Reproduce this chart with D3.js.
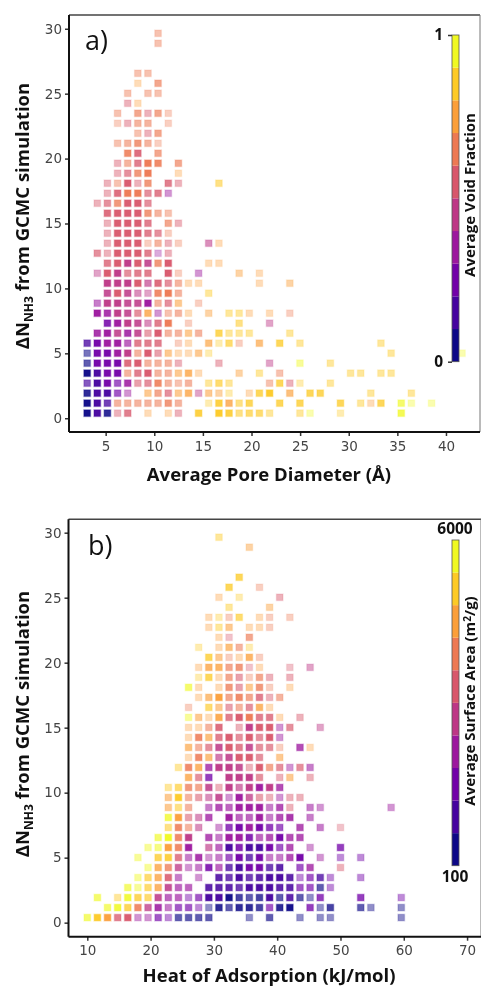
<!DOCTYPE html>
<html>
<head>
<meta charset="utf-8">
<script src="https://cdn.jsdelivr.net/npm/d3@7"></script>
<style>
  html, body { margin: 0; padding: 0; background: #fff; }
  svg { display: block; filter: blur(0.35px); }
  .tick text { font: 13.5px "DejaVu Sans", sans-serif; fill: #444; }
  .tick line { stroke: #333; stroke-width: 1.5px; }
  .axis path { display: none; }
  .title { font: bold 18.5px "Open Sans", sans-serif; fill: #111; }
  .cbtitle { font: bold 15px "Open Sans", sans-serif; fill: #111; }
  .cblabel { font: bold 15.5px "Open Sans", sans-serif; fill: #111; }
  .panel { font: 27px "Open Sans", sans-serif; fill: #111; }
</style>
</head>
<body>
<svg id="chart" width="481" height="988"></svg>
<script>
// bin centres of the 2d histograms
var poreBins = [3.1,4.14,5.18,6.23,7.27,8.31,9.35,10.39,11.44,12.48,13.52,14.56,15.6,16.65,17.69,18.73,19.77,20.81,21.86,22.9,23.94,24.98,26.02,27.07,28.11,29.15,30.19,31.23,32.27,33.31,34.36,35.4,36.44,37.48,38.52,39.57,40.61,41.65];
var heatBins = [10,11.6,13.2,14.8,16.4,18,19.6,21.2,22.8,24.4,26,27.6,29.2,30.8,32.4,34,35.6,37.2,38.8,40.4,42,43.6,45.2,46.8,48.4,50,51.6,53.2,54.8,56.4,58,59.6];
var nh3Bins = [0.39,1.16,1.93,2.70,3.47,4.24,5.01,5.78,6.55,7.32,8.09,8.86,9.63,10.4,11.17,11.94,12.71,13.48,14.25,15.02,15.79,16.56,17.33,18.1,18.87,19.64,20.41,21.18,21.95,22.72,23.49,24.26,25.03,25.8,26.57,27.34,28.11,28.88,29.65];

// one string per nh3 bin, "bin:LD" = x bin, colour level L (0-9), density D (1-9)
var cellsA = [
  "0:09 1:19 2:08 3:54 4:57 6:73 8:73 9:54 11:88 13:89 14:88 15:85 16:86 17:86 18:84 21:84 22:93 25:83 31:97",
  "0:09 1:19 2:17 3:65 4:65 5:65 6:65 7:65 8:67 9:65 12:83 13:88 14:77 15:85 16:87 19:87 21:87 25:87 27:84 28:73 29:87 31:96 32:93 34:93",
  "0:08 1:19 2:19 3:26 4:34 6:75 7:66 8:56 9:75 10:77 11:44 12:75 13:74 14:83 16:73 17:87 18:89 20:76 22:87 23:87 28:84 32:84",
  "0:16 1:19 2:29 3:26 4:38 5:55 6:56 7:68 8:65 9:64 10:65 12:84 13:86 14:84 18:64 19:87 20:54 21:83 24:84",
  "0:09 1:19 2:29 3:29 4:65 5:57 6:59 7:65 8:65 9:75 10:77 11:73 15:74 17:84 19:64 26:84 27:84 29:84 30:84",
  "0:06 1:29 2:29 3:29 4:58 5:59 6:65 7:65 8:65 9:54 13:54 18:44 21:94 24:84",
  "0:05 1:29 2:29 3:39 4:49 5:65 6:59 7:55 8:75 9:73 10:73 11:75 12:83 30:84 37:93",
  "0:17 1:29 2:39 3:39 4:36 5:57 6:57 7:57 9:63 10:73 12:76 13:83 14:86 15:63 17:76 19:87 21:84 29:84",
  "1:38 2:39 3:48 4:38 5:48 6:55 7:59 8:65 9:65 10:75 11:65 13:87 14:84 15:84 16:84 20:84",
  "2:28 3:39 4:49 5:48 6:45 7:57 8:69 10:63 15:85 18:44",
  "1:39 2:38 3:49 4:48 5:56 6:77 7:34 8:64 9:65 10:73 12:74 14:84 15:84 16:73 18:73 20:63",
  "1:35 2:49 3:49 4:48 5:48 6:39 7:65 8:56 9:75 11:63",
  "2:48 3:59 4:48 5:45 6:44 7:68 8:69 9:65 12:84",
  "2:49 3:49 4:49 5:59 6:46 7:58 8:56 9:65 10:73 11:73 17:73 20:74",
  "1:44 2:59 3:49 4:56 5:57 6:57 8:59 9:63 11:34 15:74 17:73",
  "2:57 3:59 4:49 5:59 6:48 7:67 8:59 12:73 13:73",
  "1:56 2:54 3:59 4:59 5:59 6:57 7:33 8:54",
  "2:54 3:59 4:59 5:59 6:63 7:65 8:54 9:63 12:45 13:73",
  "2:54 3:59 4:59 5:59 6:57 7:56 8:63",
  "2:54 3:59 4:59 5:59 6:57 8:66 9:54",
  "2:58 3:59 4:59 5:59 6:67 7:65 8:64",
  "1:54 2:56 3:67 4:59 5:59 6:56",
  "2:54 3:58 4:69 5:69 6:56 7:57 8:34",
  "2:54 3:64 4:59 5:54 6:67 8:57 9:54 13:85",
  "3:54 4:56 5:67 6:69 9:73",
  "3:54 4:65 5:57 6:69 7:68 9:66",
  "4:68 5:58 7:66",
  "3:64 4:65 5:67 6:65 7:63",
  "5:64 6:54 7:66",
  "3:63 4:54 5:65 6:65 8:63",
  "3:64 5:66 6:54 7:66 8:63",
  "4:54 5:73",
  "4:64 6:64 7:64",
  "5:73 7:66",
  "5:64 6:64",
  "",
  "",
  "7:64",
  "7:64"
];

var cellsB = [
  "0:96 1:89 2:79 3:57 4:59 5:34 6:34 7:26 8:24 9:06 10:06 11:06 12:06 16:04 18:06 21:04 23:04 24:04 31:04",
  "2:96 3:98 4:87 5:68 6:47 7:38 8:35 9:26 10:26 11:24 12:04 13:08 14:06 15:08 16:08 17:07 18:26 19:08 20:09 22:27 23:04 24:07 27:06 28:04 31:04",
  "1:96 3:84 4:98 5:87 6:86 7:48 8:36 9:36 10:24 11:26 12:19 13:19 14:09 15:07 16:06 17:07 18:19 19:06 20:18 21:06 22:04 23:27 27:27 31:24",
  "4:96 5:94 6:86 7:77 8:48 9:36 10:36 12:18 13:18 14:18 15:17 16:19 17:19 18:19 19:18 20:18 21:26 22:26 23:06 24:24",
  "5:94 6:86 7:77 8:58 9:35 11:34 13:18 14:17 15:19 16:17 17:18 18:19 19:19 20:18 21:24 22:26 23:17 24:24 27:24",
  "6:94 7:77 8:67 9:47 10:34 11:35 12:28 13:36 14:17 15:19 16:29 17:29 18:17 19:18 21:26 22:37 25:54",
  "5:94 7:87 8:88 9:57 10:35 11:38 12:34 13:35 14:26 15:29 16:17 17:29 18:35 19:35 20:37 21:29 23:34 25:24 27:24",
  "6:94 7:95 8:79 9:68 10:39 12:46 13:36 14:19 15:28 16:19 17:19 18:29 19:26 20:37 22:34 25:27",
  "7:96 8:99 9:68 10:49 12:37 13:35 14:39 15:39 16:28 17:36 18:37 19:29 20:37 21:37",
  "8:85 9:68 10:65 11:45 13:34 14:27 15:29 16:39 17:29 18:27 19:26 21:37 23:35 25:53",
  "8:97 9:79 10:55 11:45 12:37 14:39 15:36 16:36 17:39 18:35 19:37 20:38 22:35",
  "8:75 9:85 10:65 12:35 13:37 14:36 15:39 16:39 17:39 18:35 19:37 20:54 22:35 23:34 30:34",
  "8:75 9:89 10:65 11:55 12:45 13:48 14:34 15:39 16:47 17:55 18:54 19:34 20:54 21:54",
  "8:84 9:86 10:67 11:66 12:48 13:54 14:49 15:46 16:49 17:39 18:49 19:37",
  "10:77 11:56 12:27 14:49 15:49 16:49 17:56 19:54 20:75 22:54",
  "9:84 10:68 11:77 12:37 13:49 14:49 15:48 16:54 17:59 18:66 19:56 20:34 21:56 22:35",
  "10:73 11:68 12:76 13:46 14:48 15:59 16:59 17:56 19:75",
  "10:76 11:65 12:56 13:48 14:59 15:57 16:48 17:56 18:56 19:63 21:37 22:73",
  "10:73 11:68 12:76 13:57 14:59 15:56 16:59 17:56 18:59 19:34",
  "10:73 11:73 12:65 13:58 15:54 16:49 17:59 18:59 19:34 20:56 23:44",
  "10:94 11:75 12:73 13:78 14:57 15:59 16:69 17:57 18:57 19:73 21:54",
  "10:63 12:86 13:75 14:55 15:65 16:56 17:77 18:73",
  "11:73 12:76 13:79 14:66 15:68 16:66 17:57 18:54 19:65",
  "10:96 11:73 13:73 14:67 15:55 16:75 17:67 18:63 20:73",
  "11:83 12:87 13:73 14:66 15:55 16:63 17:66 18:54 20:54",
  "11:73 12:77 13:77 14:66 15:67 16:53 17:73 20:53 22:44",
  "12:87 13:75 14:63 15:73 16:77 17:63",
  "11:83 13:73 14:76 15:65 16:83",
  "13:73 14:53 16:66",
  "12:73 13:84 14:75 16:73 17:73 18:63",
  "12:73 13:83 14:63 15:86 17:73 18:63 20:63",
  "14:84 18:74",
  "13:73 15:83 19:54",
  "14:87 17:63",
  "15:87",
  "",
  "",
  "16:74",
  "13:84"
];

var xTicksA = [5,10,15,20,25,30,35,40];
var xTicksB = [10,20,30,40,50,60,70];
var yTicks = [0,5,10,15,20,25,30];
var voidRange = [0,1];
var areaRange = [100,6000];
var levels = 10;

var svg = d3.select("#chart");
var palette = d3.quantize(d3.interpolatePlasma, levels);

function drawPanel(o) {
  var g = svg.append("g");
  var x = d3.scaleLinear().domain(o.xDomain).range(o.xRange);
  var y = d3.scaleLinear().domain(o.yDomain).range(o.yRange);
  var color = d3.scaleQuantize().domain(o.cRange).range(palette);

  var cells = [];
  o.cells.forEach(function(row, j) {
    if (!row) { return; }
    row.split(" ").forEach(function(tok) {
      var p = tok.split(":");
      var lv = +p[1].charAt(0);
      cells.push({
        x: o.bins[+p[0]],
        y: nh3Bins[j],
        v: o.cRange[0] + (lv + 0.5) / levels * (o.cRange[1] - o.cRange[0]),
        d: +p[1].charAt(1)
      });
    });
  });

  g.append("g").selectAll("rect")
    .data(cells)
  .enter().append("rect")
    .attr("x", function(d) { return x(d.x) - 3.3; })
    .attr("y", function(d) { return y(d.y) - 3.3; })
    .attr("width", 6.6)
    .attr("height", 6.6)
    .attr("fill", function(d) { return color(d.v); })
    .attr("fill-opacity", function(d) { return Math.min(1, d.d / 10 + 0.06); })
    .attr("stroke", function(d) { return color(d.v); })
    .attr("stroke-opacity", function(d) { return d.d / 25; })
    .attr("stroke-width", 1.4);

  g.append("g").attr("class", "axis")
    .attr("transform", "translate(0," + o.yRange[0] + ")")
    .call(d3.axisBottom(x).tickValues(o.xTicks).tickSize(4).tickPadding(5));
  g.append("g").attr("class", "axis")
    .attr("transform", "translate(" + o.xRange[0] + ",0)")
    .call(d3.axisLeft(y).tickValues(yTicks).tickSize(4).tickPadding(3));

  // frame, left and bottom heavier than the rest
  g.append("line").attr("x1", o.xRange[0]).attr("x2", o.xRange[1]).attr("y1", o.yRange[1]).attr("y2", o.yRange[1])
    .attr("stroke", "#444").attr("stroke-width", 1.5);
  g.append("line").attr("x1", o.xRange[1]).attr("x2", o.xRange[1]).attr("y1", o.yRange[0]).attr("y2", o.yRange[1])
    .attr("stroke", "#777").attr("stroke-width", 1);
  g.append("line").attr("x1", o.xRange[0]).attr("x2", o.xRange[0]).attr("y1", o.yRange[0]).attr("y2", o.yRange[1])
    .attr("stroke", "#111").attr("stroke-width", 2);
  g.append("line").attr("x1", o.xRange[0]).attr("x2", o.xRange[1]).attr("y1", o.yRange[0]).attr("y2", o.yRange[0])
    .attr("stroke", "#111").attr("stroke-width", 2);

  g.append("text").attr("class", "panel").attr("x", o.panelPos[0]).attr("y", o.panelPos[1]).text(o.panel);

  g.append("text").attr("class", "title")
    .attr("x", 269).attr("y", o.xLabelY)
    .attr("text-anchor", "middle").text(o.xLabel);

  var yl = g.append("text").attr("class", "title")
    .attr("text-anchor", "middle")
    .attr("transform", "translate(29," + o.yLabelMid + ") rotate(-90)");
  yl.append("tspan").text("ΔN");
  yl.append("tspan").attr("dy", 4).style("font-size", "12px").text("NH3");
  yl.append("tspan").attr("dy", -4).text(" from GCMC simulation");

  // discrete colour bar
  var cb = d3.scaleLinear().domain(o.cRange).range(o.cbRange);
  var stepV = (o.cRange[1] - o.cRange[0]) / levels;
  var steps = palette.map(function(c, i) { return o.cRange[0] + i * stepV; });
  g.append("g").selectAll("rect")
    .data(steps)
  .enter().append("rect")
    .attr("x", 452).attr("width", 7)
    .attr("y", function(d) { return cb(d + stepV); })
    .attr("height", function(d) { return cb(d) - cb(d + stepV); })
    .attr("fill", function(d) { return color(d + stepV / 2); });
  g.append("rect").attr("x", 452).attr("width", 7)
    .attr("y", o.cbRange[1]).attr("height", o.cbRange[0] - o.cbRange[1])
    .attr("fill", "none").attr("stroke", "#555").attr("stroke-width", 0.8);

  o.drawCbLabels(g, cb);

  g.append("text").attr("class", "cbtitle")
    .attr("text-anchor", "middle")
    .attr("transform", "translate(475," + o.cbTitleMid + ") rotate(-90)")
    .call(o.cbTitle);
}

drawPanel({
  cells: cellsA, bins: poreBins, xTicks: xTicksA,
  xDomain: [1.23, 43.5], xRange: [69, 480],
  yDomain: [-1.06, 31.06], yRange: [432, 15],
  cRange: voidRange, cbRange: [361.7, 35],
  panel: "a)", panelPos: [85, 50],
  xLabel: "Average Pore Diameter (Å)", xLabelY: 481, yLabelMid: 216,
  cbTitleMid: 195,
  cbTitle: function(t) { t.text("Average Void Fraction"); },
  drawCbLabels: function(g, cb) {
    g.append("g").attr("class", "axis cb")
      .attr("transform", "translate(452,0)")
      .call(d3.axisLeft(cb).tickValues(voidRange).tickFormat(d3.format("d")).tickSize(4).tickPadding(5));
    g.selectAll(".cb text").attr("class", "cblabel").style("font", "bold 15.5px 'Open Sans', sans-serif").style("fill", "#111");
  }
});

drawPanel({
  cells: cellsB, bins: heatBins, xTicks: xTicksB,
  xDomain: [7.03, 72.2], xRange: [68.5, 481],
  yDomain: [-1.08, 31.03], yRange: [936.7, 519.3],
  cRange: areaRange, cbRange: [865.7, 540],
  panel: "b)", panelPos: [88, 555],
  xLabel: "Heat of Adsorption (kJ/mol)", xLabelY: 982, yLabelMid: 724,
  cbTitleMid: 701,
  cbTitle: function(t) {
    t.append("tspan").text("Average Surface Area (m");
    t.append("tspan").attr("dy", -4).style("font-size", "10px").text("2");
    t.append("tspan").attr("dy", 4).text("/g)");
  },
  drawCbLabels: function(g, cb) {
    g.selectAll(".cbend")
      .data(areaRange)
    .enter().append("text")
      .attr("class", "cblabel")
      .attr("text-anchor", "middle")
      .attr("x", 455)
      .attr("y", function(d) { return cb(d) + (d === areaRange[1] ? -6 : 16); })
      .text(function(d) { return d; });
  }
});
</script>
</body>
</html>
